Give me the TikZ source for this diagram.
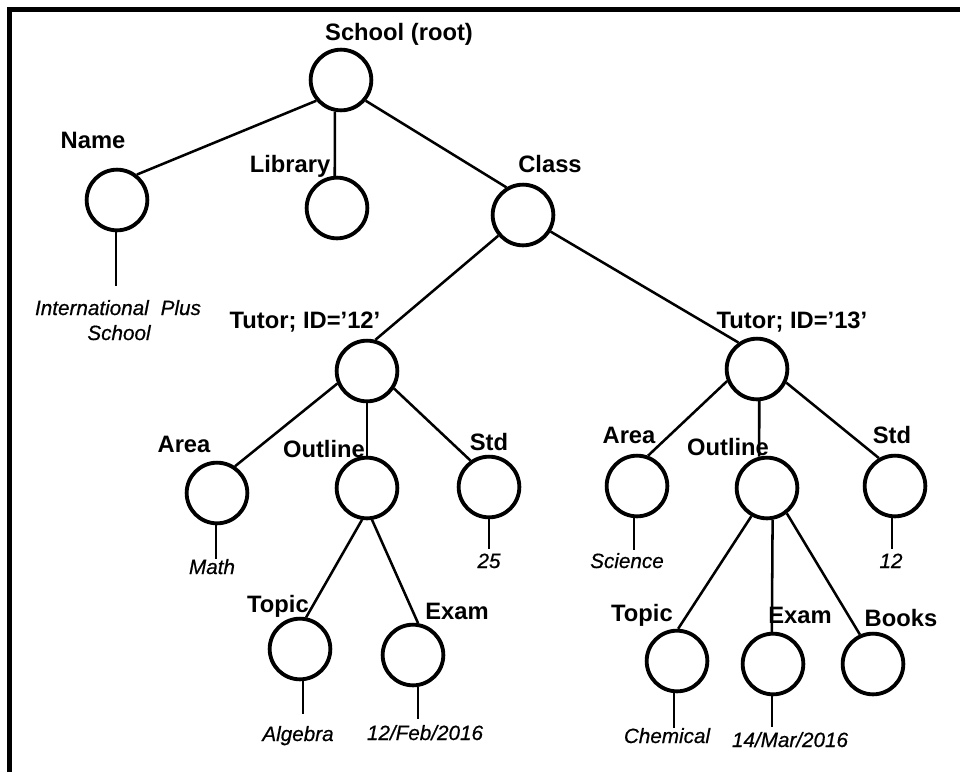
\documentclass[tikz,border=0pt]{standalone}
\usepackage{fontspec}
\setmainfont{Liberation Sans}
\newfontfamily\valfont{Liberation Sans}[ItalicFeatures={FakeBold=0.6}]
\begin{document}
\begin{tikzpicture}[x=0.75pt,y=-0.75pt,
  circ/.style={circle,draw,line width=2.9pt,minimum size=45.5pt,inner sep=0pt},
  edge/.style={line width=1.9pt},
  lbl/.style={font=\bfseries\fontsize{17.8}{20}\selectfont,anchor=base,inner sep=0pt},
  val/.style={font=\valfont\itshape\fontsize{15.5}{18}\selectfont,anchor=base,inner sep=0pt}]
\useasboundingbox (0,0) rectangle (960,772);
\draw[line width=3.75pt] (9.5,772) -- (9.5,9) -- (960,9);

% circles
\node[circ] (root) at (341,80) {};
\node[circ] (name) at (117,200) {};
\node[circ] (lib) at (337,208) {};
\node[circ] (cls) at (523,215) {};
\node[circ] (t12) at (367,371) {};
\node[circ] (t13) at (757,369) {};
\node[circ] (al) at (217,493) {};
\node[circ] (ol) at (367,488) {};
\node[circ] (sl) at (489,487) {};
\node[circ] (tl) at (300,649) {};
\node[circ] (el) at (413,655) {};
\node[circ] (ar) at (637,486) {};
\node[circ] (or) at (767,488) {};
\node[circ] (sr) at (895,486) {};
\node[circ] (tr) at (677,661) {};
\node[circ] (er) at (773,664) {};
\node[circ] (br) at (873,664) {};

% labels
\node[lbl] (lroot) at (399,40) {School (root)};
\node[lbl] (lname) at (93,148) {Name};
\node[lbl] (llib) at (290,172) {Library};
\node[lbl] (lcls) at (550,172) {Class};
\node[lbl] (lt12) at (305,328) {Tutor; ID=’12’};
\node[lbl] (lt13) at (792,328) {Tutor; ID=’13’};
\node[lbl] (lal) at (184,452) {Area};
\node[lbl] (lol) at (324,457) {Outline};
\node[lbl] (lsl) at (489,450) {Std};
\node[lbl] (ltl) at (278,612) {Topic};
\node[lbl] (lel) at (457,619) {Exam};
\node[lbl] (lar) at (629,443) {Area};
\node[lbl] (lor) at (728,455) {Outline};
\node[lbl] (lsr) at (892,443) {Std};
\node[lbl] (ltr) at (642,621) {Topic};
\node[lbl] (ler) at (800,623) {Exam};
\node[lbl] (lbr) at (901,626) {Books};

% values
\node[val] (vname) at (118,315) {International\hspace{0.3em} Plus};
\node[val] (vname2) at (119,340) {School};
\node[val] (val) at (212,574) {Math};
\node[val] (vsl) at (489,568) {25};
\node[val] (vtl) at (298,741) {Algebra};
\node[val] (vel) at (425,740) {12/Feb/2016};
\node[val] (var) at (627,568) {Science};
\node[val] (vsr) at (891,568) {12};
\node[val] (vtr) at (667,743) {Chemical};
\node[val] (ver) at (790,747) {14/Mar/2016};

% stub ends
\coordinate (sname) at (116,286);
\coordinate (sal) at (216,559);
\coordinate (ssl) at (489,549);
\coordinate (stl) at (303,714);
\coordinate (sel) at (418,719);
\coordinate (sar) at (634,550);
\coordinate (ssr) at (892,549);
\coordinate (str) at (674,728);
\coordinate (ser) at (772,727);

\draw[edge] (name.south -| sname) -- (sname);
\draw[edge] (al.south -| sal) -- (sal);
\draw[edge] (sl.south -| ssl) -- (ssl);
\draw[edge] (tl.south -| stl) -- (stl);
\draw[edge] (el.south -| sel) -- (sel);
\draw[edge] (ar.south -| sar) -- (sar);
\draw[edge] (sr.south -| ssr) -- (ssr);
\draw[edge] (tr.south -| str) -- (str);
\draw[edge] (er.south -| ser) -- (ser);

% edges
\draw[edge] (root.-140) -- (name.52);
\draw[edge] (root.-101) -- (lib.94);
\draw[edge] (root.-40) -- (cls.121);
\draw[edge] (cls.-140) -- (t12.75);
\draw[edge] (cls.-31) -- (t13.125);
\draw[edge] (t12.-157) -- (al.56);
\draw[edge] (t12.south) -- (ol.north);
\draw[edge] (t12.-33) -- (sl.125);
\draw[edge] (ol.-99) -- (tl.79);
\draw[edge] (ol.-81) -- (el.81);
\draw[edge] (t13.-158) -- (ar.70);
\draw[edge] (t13.-86) -- (or.104);
\draw[edge] (t13.-25) -- (sr.120);
\draw[edge] (or.-119) -- (tr.88);
\draw[edge] (or.-80) -- (er.92);
\draw[edge] (or.-52) -- (br.114);
\end{tikzpicture}
\end{document}
